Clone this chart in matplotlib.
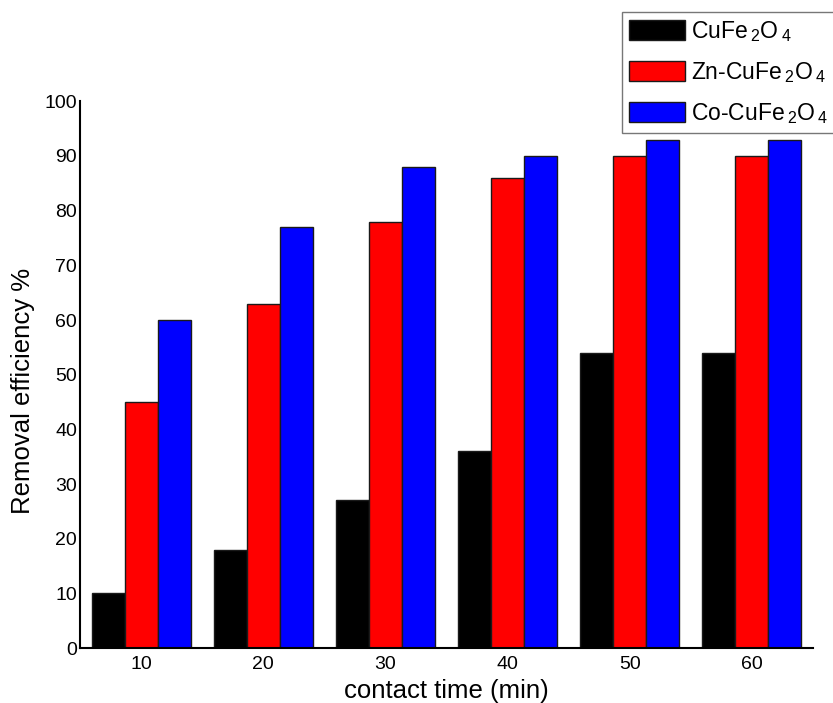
import numpy as np
import matplotlib
matplotlib.use("Agg")
import matplotlib.pyplot as plt

plt.rcParams["font.family"] = ["Liberation Sans", "DejaVu Sans"]
plt.rcParams["mathtext.fontset"] = "custom"
plt.rcParams["mathtext.rm"] = "Liberation Sans"
plt.rcParams["mathtext.it"] = "Liberation Sans"

# contact time (min) and removal efficiency (%) per catalyst
contact_time = [10, 20, 30, 40, 50, 60]
cufe2o4 = [10, 18, 27, 36, 54, 54]
zn_cufe2o4 = [45, 63, 78, 86, 90, 90]
co_cufe2o4 = [60, 77, 88, 90, 93, 93]

labels = [r"CuFe$\,_2$O$\,_4$",
          r"Zn-CuFe$\,_2$O$\,_4$",
          r"Co-CuFe$\,_2$O$\,_4$"]
colors = ["#000000", "#ff0000", "#0000ff"]

fig = plt.figure(figsize=(8.33, 7.03), dpi=100)
ax = fig.add_axes([0.096, 0.078, 0.88, 0.778])

x = np.array(contact_time, dtype=float)
w = 2.7
handles = []
for i, (vals, c, lab) in enumerate(zip([cufe2o4, zn_cufe2o4, co_cufe2o4], colors, labels)):
    h = ax.bar(x + (i - 1) * w, vals, width=w, color=c, edgecolor="#1a1a1a",
               linewidth=1.0, label=lab)
    handles.append(h)

ax.set_xlim(5, 65)
ax.set_ylim(0, 100)
ax.set_xticks(contact_time)
ax.set_yticks(range(0, 101, 10))
ax.tick_params(length=0, labelsize=14)
ax.tick_params(axis="x", pad=6)
ax.tick_params(axis="y", pad=2)
for s in ["top", "right"]:
    ax.spines[s].set_visible(False)
for s in ["left", "bottom"]:
    ax.spines[s].set_linewidth(1.5)

ax.set_xlabel("contact time (min)", fontsize=18.5, labelpad=4)
ax.set_ylabel("Removal efficiency %", fontsize=18.5)
ax.yaxis.set_label_coords(-0.062, 0.47)

leg = fig.legend(handles=handles, loc="upper left",
                 bbox_to_anchor=(622 / 833, 1 - 12 / 703),
                 fontsize=16.5, frameon=True, fancybox=False,
                 handlelength=2.45, handleheight=1.0, handletextpad=0.25,
                 labelspacing=0.7, borderpad=0.3, borderaxespad=0)
leg.get_frame().set_edgecolor("#555555")
leg.get_frame().set_linewidth(1.0)

fig.savefig("out.png", dpi=100)
